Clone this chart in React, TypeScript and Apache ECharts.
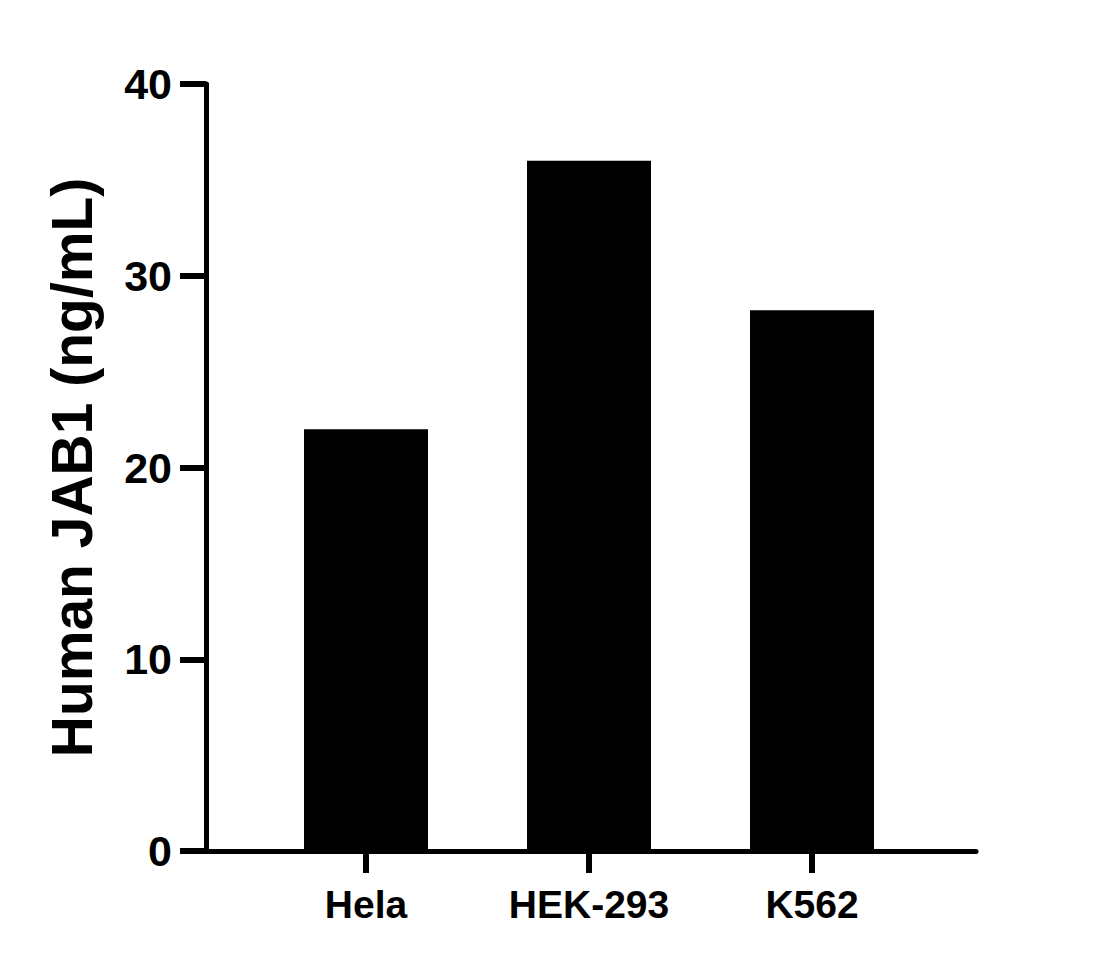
import React, { useEffect, useRef } from "react";
import * as echarts from "echarts";

const categories: string[] = ["Hela", "HEK-293", "K562"];
const values: number[] = [22.0, 36.0, 28.2];
const yTicks = { min: 0, max: 40, interval: 10 };
const yTitle = "Human JAB1 (ng/mL)";

const FONT = '"Liberation Sans", Arial, Helvetica, sans-serif';

export default function App() {
  const ref = useRef<HTMLDivElement>(null);
  useEffect(() => {
    if (!ref.current) return;
    const chart = echarts.init(ref.current, undefined, { renderer: "svg" });
    const option: echarts.EChartsOption = {
      animation: false,
      backgroundColor: "#ffffff",
      grid: [
        { left: 206, right: 135, top: 84, bottom: 116 },
        { left: 254.5, right: 187.5, top: 84, bottom: 116 },
      ],
      xAxis: [
        {
          type: "value",
          gridIndex: 0,
          min: 0,
          max: 1,
          axisLine: { show: true, lineStyle: { color: "#000", width: 5 } },
          axisTick: { show: false },
          axisLabel: { show: false },
          splitLine: { show: false },
        },
        {
          type: "category",
          gridIndex: 1,
          data: categories,
          axisLine: { show: false },
          axisTick: {
            show: true,
            alignWithLabel: true,
            length: 22,
            lineStyle: { color: "#000", width: 6 },
          },
          axisLabel: {
            margin: 34,
            color: "#000",
            fontFamily: FONT,
            fontWeight: "bold",
            fontSize: 39,
          },
          splitLine: { show: false },
        },
      ],
      yAxis: [
        {
          type: "value",
          gridIndex: 0,
          min: yTicks.min,
          max: yTicks.max,
          interval: yTicks.interval,
          name: yTitle,
          nameLocation: "middle",
          nameGap: 106,
          nameRotate: 90,
          nameTextStyle: {
            color: "#000",
            fontFamily: FONT,
            fontWeight: "bold",
            fontSize: 57,
          },
          axisLine: { show: true, lineStyle: { color: "#000", width: 5 } },
          axisTick: {
            show: true,
            length: 26,
            lineStyle: { color: "#000", width: 6 },
          },
          axisLabel: {
            margin: 34,
            color: "#000",
            fontFamily: FONT,
            fontWeight: "bold",
            fontSize: 43,
          },
          splitLine: { show: false },
        },
        {
          type: "value",
          gridIndex: 1,
          min: yTicks.min,
          max: yTicks.max,
          interval: yTicks.interval,
          show: false,
          splitLine: { show: false },
        },
      ],
      series: [
        {
          type: "bar",
          xAxisIndex: 1,
          yAxisIndex: 1,
          data: values,
          barWidth: 124,
          itemStyle: { color: "#000" },
          z: 1,
        },
      ],
    };
    chart.setOption(option);
    return () => chart.dispose();
  }, []);
  return (
    <div
      ref={ref}
      style={{ position: "fixed", left: 0, top: 0, width: 1111, height: 967, background: "#fff" }}
    />
  );
}
